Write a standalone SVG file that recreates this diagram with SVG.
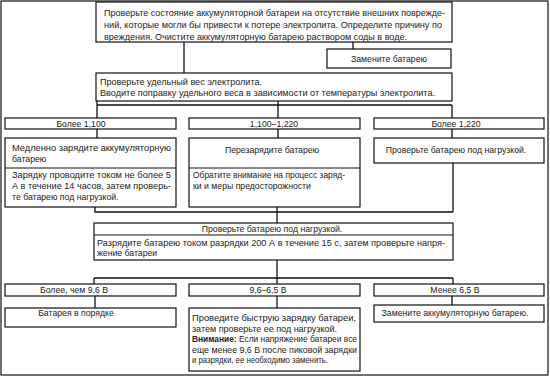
<svg xmlns="http://www.w3.org/2000/svg" width="550" height="377" viewBox="0 0 550 377">
<style>
.b{fill:#fff;stroke:#111;stroke-width:1.2}
.d{stroke:#111;stroke-width:1.2;fill:none}
.c{stroke:#111;stroke-width:1.3;fill:none}
text{font-family:"Liberation Sans",Arial,sans-serif;font-size:8.7px;fill:#222}
.m{text-anchor:middle}
</style>
<rect x="0" y="0" width="550" height="377" fill="#fff"/>
<rect x="1" y="1" width="547" height="374" class="d"/>
<g id="connectors" class="c">
<path d="M184 42V73"/>
<path d="M353 42V49"/>
<path d="M97 101V118M97 105H452M278 101V118M452 105V118"/>
<path d="M97 129V138M278 129V138M452 129V138"/>
<path d="M95 207V212H453M453 163V212M277 207V223"/>
<path d="M277 260V284M94 278H453M94 278V284M453 278V284"/>
<path d="M95 296V308M277 296V308M452 296V305"/>
</g>
<g id="n1">
<rect x="96" y="2" width="356" height="40" class="b"/>
<text x="104" y="16" textLength="341" lengthAdjust="spacingAndGlyphs">Проверьте состояние аккумуляторной батареи на отсутствие внешних поврежде-</text>
<text x="104" y="28" textLength="338" lengthAdjust="spacingAndGlyphs">ний, которые могли бы привести к потере электролита. Определите причину по</text>
<text x="104" y="40" textLength="303" lengthAdjust="spacingAndGlyphs">вреждения. Очистите аккумуляторную батарею раствором соды в воде.</text>
</g>
<g id="n2">
<rect x="327" y="49" width="124" height="19" class="b"/>
<text x="389" y="62" class="m">Замените батарею</text>
</g>
<g id="n3">
<rect x="96" y="73" width="356" height="28" class="b"/>
<text x="100" y="85" textLength="162" lengthAdjust="spacingAndGlyphs">Проверьте удельный вес электролита.</text>
<text x="100" y="96" textLength="335" lengthAdjust="spacingAndGlyphs">Вводите поправку удельного веса в зависимости от температуры электролита.</text>
</g>
<g id="r1">
<rect x="5" y="118" width="171" height="11" class="b"/>
<text x="81" y="127" class="m">Более 1,100</text>
</g>
<g id="r2">
<rect x="189" y="118" width="171" height="11" class="b"/>
<text x="274" y="127" class="m">1,100–1,220</text>
</g>
<g id="r3">
<rect x="374" y="118" width="170" height="11" class="b"/>
<text x="456" y="127" class="m">Более 1,220</text>
</g>
<g id="a1">
<rect x="5" y="138" width="171" height="69" class="b"/>
<line x1="5" y1="168" x2="176" y2="168" class="d"/>
<text x="12" y="151" textLength="159" lengthAdjust="spacingAndGlyphs">Медленно зарядите аккумуляторную</text>
<text x="12" y="162">батарею</text>
<text x="12" y="178" textLength="159" lengthAdjust="spacingAndGlyphs">Зарядку проводите током не более 5</text>
<text x="12" y="189" textLength="159" lengthAdjust="spacingAndGlyphs">А в течение 14 часов, затем проверь-</text>
<text x="12" y="200">те батарею под нагрузкой.</text>
</g>
<g id="a2">
<rect x="189" y="138" width="171" height="69" class="b"/>
<line x1="189" y1="168" x2="360" y2="168" class="d"/>
<text x="272" y="153" class="m">Перезарядите батарею</text>
<text x="193" y="178" textLength="152" lengthAdjust="spacingAndGlyphs">Обратите внимание на процесс заряд-</text>
<text x="193" y="189">ки и меры предосторожности</text>
</g>
<g id="a3">
<rect x="374" y="138" width="170" height="25" class="b"/>
<text x="456" y="153" class="m">Проверьте батарею под нагрузкой.</text>
</g>
<g id="n4">
<rect x="94" y="223" width="359" height="37" class="b"/>
<line x1="94" y1="235" x2="453" y2="235" class="d"/>
<text x="272" y="232" class="m">Проверьте батарею под нагрузкой.</text>
<text x="97" y="246" textLength="348" lengthAdjust="spacingAndGlyphs">Разрядите батарею током разрядки 200 А в течение 15 с, затем проверьте напря-</text>
<text x="97" y="256">жение батареи</text>
</g>
<g id="v1">
<rect x="5" y="284" width="171" height="12" class="b"/>
<text x="74" y="293" class="m">Более, чем 9,6 В</text>
</g>
<g id="v2">
<rect x="189" y="284" width="171" height="12" class="b"/>
<text x="268" y="293" class="m">9,6–6,5 В</text>
</g>
<g id="v3">
<rect x="374" y="284" width="170" height="12" class="b"/>
<text x="455" y="293" class="m">Менее 6,5 В</text>
</g>
<g id="o1">
<rect x="5" y="308" width="171" height="19" class="b"/>
<text x="76" y="316" class="m">Батарея в порядке</text>
</g>
<g id="o2">
<rect x="189" y="308" width="171" height="63" class="b"/>
<text x="192" y="321" textLength="164" lengthAdjust="spacingAndGlyphs">Проведите быструю зарядку батареи,</text>
<text x="192" y="332" textLength="145" lengthAdjust="spacingAndGlyphs">затем проверьте ее под нагрузкой.</text>
<text x="192" y="342" textLength="165" lengthAdjust="spacingAndGlyphs"><tspan font-weight="bold">Внимание:</tspan> Если напряжение батареи все</text>
<text x="192" y="353" textLength="165" lengthAdjust="spacingAndGlyphs">еще менее 9,6 В после пиковой зарядки</text>
<text x="192" y="363" textLength="136" lengthAdjust="spacingAndGlyphs">и разрядки, ее необходимо заменить.</text>
</g>
<g id="o3">
<rect x="374" y="305" width="170" height="17" class="b"/>
<text x="455" y="316" class="m">Замените аккумуляторную батарею.</text>
</g>
</svg>
